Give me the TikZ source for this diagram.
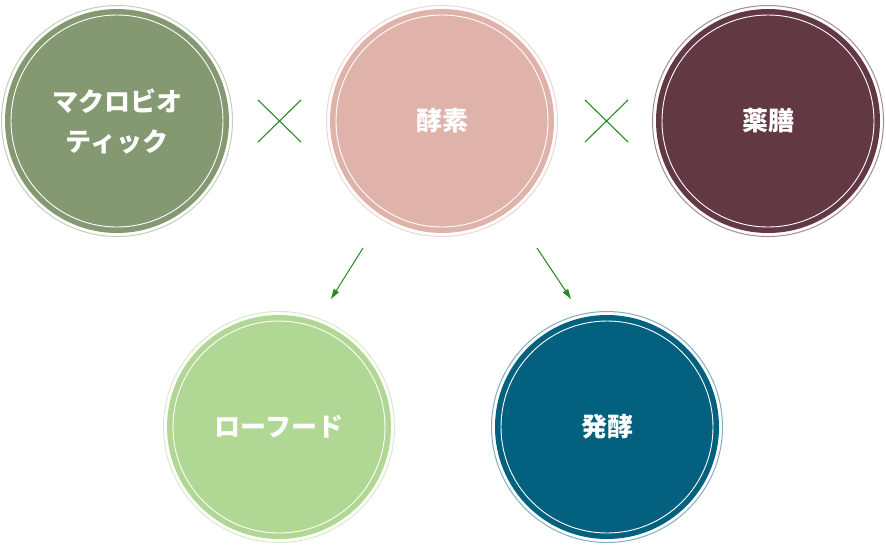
\documentclass[tikz,border=0pt]{standalone}
\usepackage{fontspec}
\newfontfamily\cjk{Noto Sans CJK JP}
\usetikzlibrary{arrows.meta}
\definecolor{cA}{HTML}{849872}\definecolor{rA}{HTML}{C3CEB8}
\definecolor{cB}{HTML}{DFB2AA}\definecolor{rB}{HTML}{EFD5D1}
\definecolor{cC}{HTML}{623943}\definecolor{rC}{HTML}{A48A90}
\definecolor{cD}{HTML}{B0D794}\definecolor{rD}{HTML}{D6EBC8}
\definecolor{cE}{HTML}{03607F}\definecolor{rE}{HTML}{7FAFC0}
\definecolor{lg}{HTML}{2A8A22}
\tikzset{
  disc/.style={circle, fill=#1, minimum size=224pt, inner sep=0pt, text=white,
    font=\cjk\bfseries\fontsize{26}{40}\selectfont, align=center},
  outerring/.style={draw=#1, line width=1pt},
  innerring/.style={draw=white, line width=0.9pt},
  cross/.style={draw=lg, line width=1.1pt},
  flow/.style={draw=lg, line width=1pt, -{Triangle[length=10pt,width=6pt]}}
}
\begin{document}
\begin{tikzpicture}[x=1pt,y=-1pt]
\useasboundingbox (0,0) rectangle (886,550);
\node[disc=cA] (mac) at (117,121) {マクロビオ\\ティック};
\node[disc=cB] (kou) at (442,121) {酵素};
\node[disc=cC] (yak) at (768,121) {薬膳};
\node[disc=cD] (raw) at (279,427) {ローフード};
\node[disc=cE] (hak) at (607,427) {発酵};
\foreach \n/\c in {mac/rA,kou/rB,yak/rC,raw/rD,hak/rE}{
  \draw[outerring=\c] (\n.center) circle (115.5);
  \draw[innerring] (\n.center) circle (106);
}
% crosses
\coordinate (x1a) at (258,100); \coordinate (x1b) at (301,142);
\coordinate (x1c) at (301,100); \coordinate (x1d) at (258,142);
\draw[cross] (x1a) -- (x1b); \draw[cross] (x1c) -- (x1d);
\coordinate (x2a) at (585,100); \coordinate (x2b) at (628,142);
\coordinate (x2c) at (628,100); \coordinate (x2d) at (585,142);
\draw[cross] (x2a) -- (x2b); \draw[cross] (x2c) -- (x2d);
% arrows
\coordinate (a1s) at (363,248); \coordinate (a1e) at (331,299);
\coordinate (a2s) at (537,248); \coordinate (a2e) at (571,299);
\draw[flow] (a1s) -- (a1e);
\draw[flow] (a2s) -- (a2e);
\end{tikzpicture}
\end{document}
